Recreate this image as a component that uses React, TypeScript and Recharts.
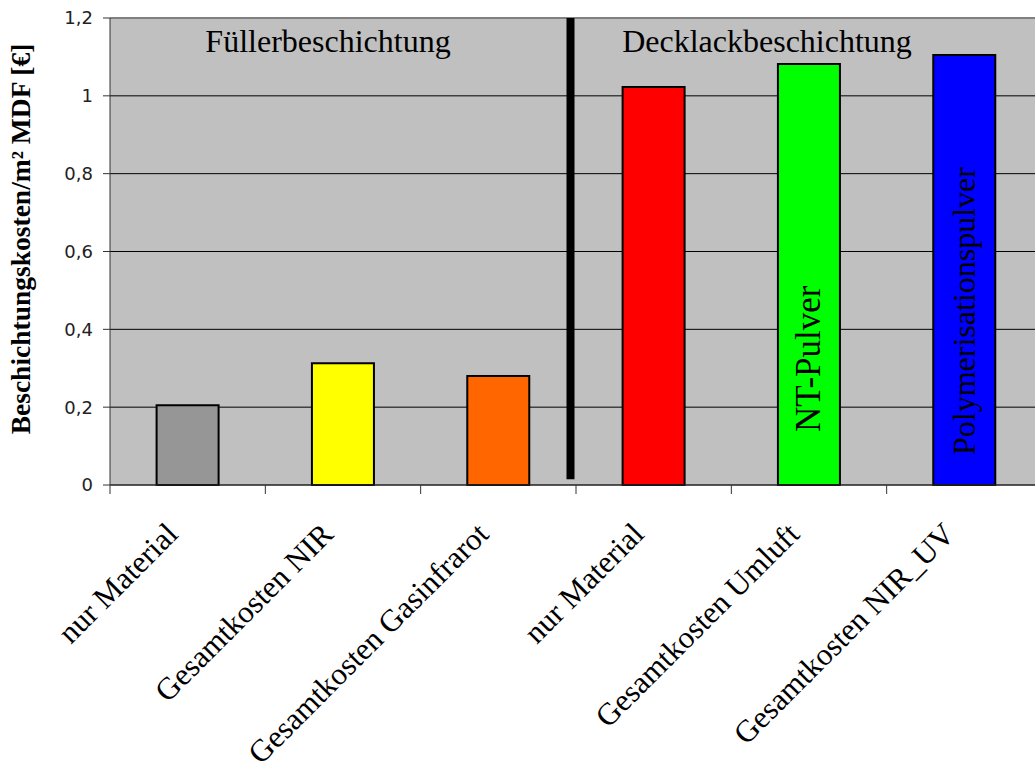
import React from 'react';
import {
  BarChart,
  Bar,
  XAxis,
  YAxis,
  CartesianGrid,
  Cell,
  ReferenceLine,
  LabelList,
  Customized,
} from 'recharts';

// Coating cost per m² MDF, filler coats (left) vs. top coats (right)
const categoryIds = ['f1', 'f2', 'f3', 'd1', 'd2', 'd3'];
const categoryLabels = [
  'nur Material',
  'Gesamtkosten NIR',
  'Gesamtkosten Gasinfrarot',
  'nur Material',
  'Gesamtkosten Umluft',
  'Gesamtkosten NIR_UV',
];
const costValues = [0.205, 0.313, 0.28, 1.023, 1.082, 1.105];
const barNotes = ['', '', '', '', 'NT-Pulver', 'Polymerisationspulver'];
const yTicks = [0, 0.2, 0.4, 0.6, 0.8, 1, 1.2];
const groupTitles = ['Füllerbeschichtung', 'Decklackbeschichtung'];
const axisTitle = 'Beschichtungskosten/m² MDF [€]';

// Separator in front of the first top-coat category, value range it spans
const dividerBefore = 'd1';
const dividerFrom = 0.015;
const dividerTo = 1.2;

// Styling
const barColors = ['#969696', '#FFFF00', '#FF6600', '#FF0000', '#00FF00', '#0000FF'];
const noteLiftPx = [0, 0, 0, 0, 53, 30];
const noteFontPx = [0, 0, 0, 0, 35, 32];
const SERIF = '"Liberation Serif", "Times New Roman", Times, serif';
const SANS = '"DejaVu Sans", Verdana, sans-serif';

const data = categoryIds.map((id, i) => ({
  id,
  cost: costValues[i],
  note: barNotes[i],
}));

const fmt = (v: number) => String(v).replace('.', ',');

const XTick = (props: any) => {
  const { x, y, payload } = props;
  const i = categoryIds.indexOf(payload.value);
  const half = payload.offset ?? 77.6;
  return (
    <g>
      <line x1={x - half} y1={y} x2={x - half} y2={y + 9} stroke="#333" strokeWidth={1} />
      <text
        transform={`translate(${x - 8},${y + 51}) rotate(-45)`}
        textAnchor="end"
        fontFamily={SERIF}
        fontSize={31}
        fill="#000"
      >
        {categoryLabels[i]}
      </text>
    </g>
  );
};

const NoteLabel = (props: any) => {
  const { x, y, width, height, value, index } = props;
  if (!value) return null;
  const cx = Number(x) + Number(width) / 2;
  const bottom = Number(y) + Number(height);
  const lift = noteLiftPx[index] ?? 40;
  return (
    <text
      transform={`translate(${cx},${bottom - lift}) rotate(-90)`}
      textAnchor="start"
      dominantBaseline="central"
      fontFamily={SERIF}
      fontSize={noteFontPx[index] || 33}
      fill="#000"
    >
      {value}
    </text>
  );
};

// Thick separator, drawn slightly left of the category boundary
const DividerShape = (props: any) => {
  const { x1, y1, x2, y2 } = props;
  return (
    <line
      x1={Number(x1) - 5.5}
      y1={y1}
      x2={Number(x2) - 5.5}
      y2={y2}
      stroke="#000"
      strokeWidth={8}
    />
  );
};

const Annotations = () => (
  <g>
    <text x={328} y={52} textAnchor="middle" fontFamily={SERIF} fontSize={32} fill="#000">
      {groupTitles[0]}
    </text>
    <text x={767} y={52} textAnchor="middle" fontFamily={SERIF} fontSize={32} fill="#000">
      {groupTitles[1]}
    </text>
    <text
      transform="translate(30,239) rotate(-90)"
      textAnchor="middle"
      fontFamily={SERIF}
      fontWeight="bold"
      fontSize={27.5}
      fill="#000"
    >
      {axisTitle}
    </text>
  </g>
);

export default function App() {
  return (
    <div
      style={{
        position: 'absolute',
        left: 0,
        top: 0,
        width: 1035,
        height: 765,
        overflow: 'hidden',
        background: '#fff',
      }}
    >
      <BarChart
        width={1050}
        height={765}
        data={data}
        margin={{ top: 18, right: 8, bottom: 0, left: 0 }}
        barCategoryGap="30%"
      >
        <CartesianGrid
          horizontal
          vertical={false}
          stroke="#000"
          strokeWidth={1}
          fill="#C0C0C0"
          fillOpacity={1}
        />
        <XAxis
          dataKey="id"
          type="category"
          height={280}
          interval={0}
          tickSize={0}
          tickMargin={0}
          tickLine={false}
          axisLine={{ stroke: '#333', strokeWidth: 1 }}
          tick={<XTick />}
        />
        <YAxis
          width={110}
          domain={[0, 1.2]}
          ticks={yTicks}
          interval={0}
          tickSize={7}
          tickMargin={10}
          tickFormatter={fmt}
          axisLine={{ stroke: '#333', strokeWidth: 1 }}
          tickLine={{ stroke: '#333', strokeWidth: 1 }}
          tick={{ fontFamily: SANS, fontSize: 18, fill: '#222' }}
        />
        <ReferenceLine y={1.2} stroke="#808080" strokeWidth={2} />
        <Bar dataKey="cost" stroke="#000" strokeWidth={2} isAnimationActive={false}>
          {data.map((d, i) => (
            <Cell key={d.id} fill={barColors[i]} />
          ))}
          <LabelList dataKey="note" content={<NoteLabel />} />
        </Bar>
        <ReferenceLine
          segment={[
            { x: dividerBefore, y: dividerFrom },
            { x: dividerBefore, y: dividerTo },
          ]}
          position="start"
          shape={DividerShape}
          stroke="#000"
          strokeWidth={8}
        />
        <Customized component={Annotations} />
      </BarChart>
    </div>
  );
}
